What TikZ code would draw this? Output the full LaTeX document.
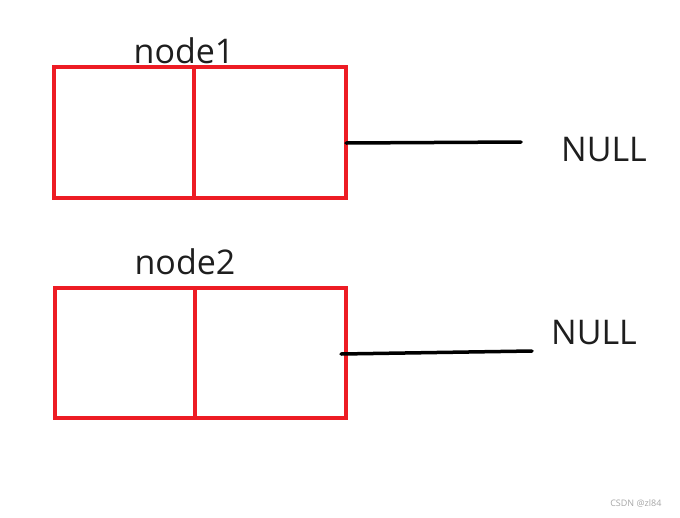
\documentclass[tikz,border=0pt]{standalone}
\usepackage{fontspec}
\setmainfont{Open Sans}
\definecolor{boxred}{RGB}{237,28,36}
\definecolor{inkgray}{RGB}{30,30,30}

\begin{document}
\begin{tikzpicture}[x=1pt, y=-1pt,
	cell/.style={draw=boxred, line width=4pt, minimum height=131pt, inner sep=0pt},
	label/.style={font=\fontsize{34}{37}\selectfont, text=inkgray, anchor=base},
	link/.style={line width=3.5pt, line cap=round}]
	\useasboundingbox (0,0) rectangle (680,517);
	% first node
	\node[cell, minimum width=140pt] (n1data) at (124,132.5) {};
	\node[cell, minimum width=152pt] (n1next) at (270,132.5) {};
	\node[label] (n1name) at (184,63) {node1};
	\coordinate (n1start) at (346,143);
	\coordinate (n1end) at (521,142);
	\node[label] (null1) at (604,161) {NULL};
	\draw[link] (n1start) -- (n1end);
	% second node
	\node[cell, minimum width=140pt, minimum height=130pt] (n2data) at (125,353) {};
	\node[cell, minimum width=151pt, minimum height=130pt] (n2next) at (270.5,353) {};
	\node[label] (n2name) at (185,274) {node2};
	\coordinate (n2start) at (341,354);
	\coordinate (n2end) at (532,351);
	\node[label] (null2) at (594,344) {NULL};
	\draw[link] (n2start) -- (n2end);
	% watermark
	\node[font=\fontsize{9}{10}\selectfont, text=gray!70, anchor=east] (mark) at (665,503) {CSDN @zl84};
\end{tikzpicture}
\end{document}
